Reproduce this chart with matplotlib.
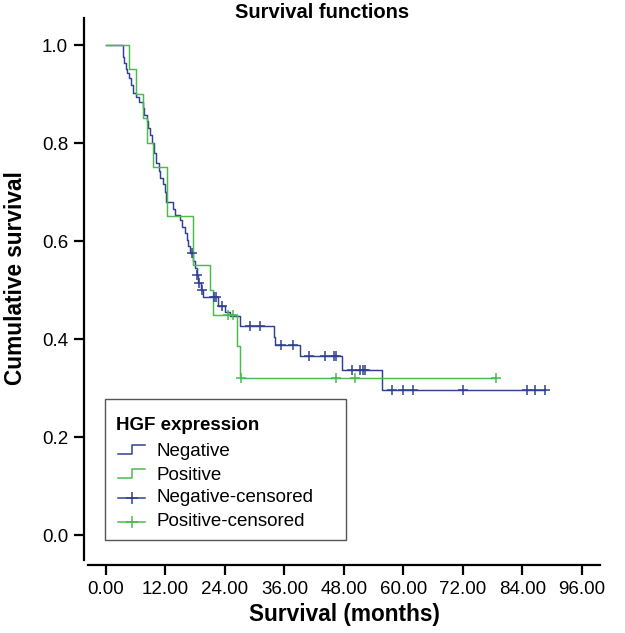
import numpy as np
import matplotlib
matplotlib.use("Agg")
import matplotlib.pyplot as plt
from matplotlib.lines import Line2D
from matplotlib.patches import Rectangle

plt.rcParams['font.family'] = ['Liberation Sans', 'DejaVu Sans']

# ---- data ----
neg_event_times = [3.4, 3.7, 4.0, 4.3, 4.6, 5.0, 5.5, 6.0, 6.6, 7.4, 7.7, 8.2, 8.5, 8.9, 9.2,
                   9.6, 10.0, 10.6, 10.9, 11.4, 11.8, 12.1, 13.5, 13.9, 14.9, 15.3, 16.0, 16.3,
                   16.6, 17.0, 17.6, 18.0, 18.3, 18.6, 19.2, 19.6, 22.6, 24.0, 25.0, 27.1, 33.8,
                   34.1, 39.2, 47.6, 55.7]
neg_event_surv = [0.975, 0.963, 0.952, 0.942, 0.932, 0.918, 0.903, 0.893, 0.883, 0.872, 0.857,
                  0.844, 0.830, 0.816, 0.800, 0.780, 0.760, 0.742, 0.728, 0.716, 0.700, 0.680,
                  0.665, 0.653, 0.642, 0.629, 0.616, 0.602, 0.590, 0.575, 0.560, 0.545, 0.530,
                  0.515, 0.500, 0.485, 0.468, 0.455, 0.447, 0.427, 0.405, 0.388, 0.366, 0.337,
                  0.296]
neg_censor_times = [17.3, 18.4, 18.8, 19.4, 21.8, 22.2, 23.4, 29.0, 31.1, 35.3, 37.7, 41.0,
                    44.2, 46.0, 46.4, 49.6, 51.3, 51.9, 52.3, 57.6, 60.0, 61.9, 72.0, 85.0,
                    86.6, 88.6]
neg_end = 88.6

pos_event_times = [4.7, 6.0, 7.5, 8.3, 9.4, 12.3, 17.6, 21.0, 21.6, 26.4, 27.0]
pos_event_surv = [0.95, 0.90, 0.85, 0.80, 0.75, 0.65, 0.55, 0.50, 0.45, 0.386, 0.321]
pos_censor_times = [24.7, 25.7, 27.3, 46.3, 50.3, 78.7]
pos_end = 78.7

x_ticks = [0, 12, 24, 36, 48, 60, 72, 84, 96]
x_ticklabels = ["0.00", "12.00", "24.00", "36.00", "48.00", "60.00", "72.00", "84.00", "96.00"]
y_ticks = [0.0, 0.2, 0.4, 0.6, 0.8, 1.0]
y_ticklabels = ["0.0", "0.2", "0.4", "0.6", "0.8", "1.0"]
legend_title = "HGF expression"
legend_labels = ["Negative", "Positive", "Negative-censored", "Positive-censored"]

BLUE = '#2f4190'
GREEN = '#4cba4c'

W, H = 625, 633
fig = plt.figure(figsize=(W / 100, H / 100), dpi=100)
AX_L, AX_R, AX_T, AX_B = 84, 600, 17.5, 565
ax = fig.add_axes([AX_L / W, 1 - AX_B / H, (AX_R - AX_L) / W, (AX_B - AX_T) / H])
ax.set_xlim((AX_L - 106) / 4.958, (AX_R - 106) / 4.958)
ax.set_ylim((535 - AX_B) / 490, (535 - AX_T) / 490)


def step_arrays(times, surv, end):
    t = np.concatenate([[0.0], times, [end]])
    s = np.concatenate([[1.0], surv, [surv[-1]]])
    return t, s


def level_at(times, surv, t):
    idx = np.searchsorted(np.asarray(times), t, side='right') - 1
    return np.where(idx >= 0, np.asarray(surv)[np.maximum(idx, 0)], 1.0)


tn, sn = step_arrays(neg_event_times, neg_event_surv, neg_end)
tp, sp = step_arrays(pos_event_times, pos_event_surv, pos_end)

ax.step(tn, sn, where='post', color=BLUE, lw=1.05, zorder=3)
ax.step(tp, sp, where='post', color=GREEN, lw=1.05, zorder=4)

nc = np.asarray(neg_censor_times)
pc = np.asarray(pos_censor_times)
ax.plot(nc, level_at(neg_event_times, neg_event_surv, nc), ls='none', marker='+',
        ms=7, mew=1.1, color=BLUE, zorder=5)
ax.plot(pc, level_at(pos_event_times, pos_event_surv, pc), ls='none', marker='+',
        ms=7, mew=1.1, color=GREEN, zorder=6)

for s in ['top', 'right']:
    ax.spines[s].set_visible(False)
ax.spines['left'].set_linewidth(1.6)
ax.spines['bottom'].set_linewidth(1.6)
ax.spines['left'].set_bounds((535 - 560) / 490, (535 - AX_T) / 490)
ax.spines['bottom'].set_bounds((88 - 106) / 4.958, (AX_R - 106) / 4.958)

ax.set_xticks(x_ticks)
ax.set_xticklabels(x_ticklabels)
ax.set_yticks(y_ticks)
ax.set_yticklabels(y_ticklabels)
ax.tick_params(axis='both', direction='out', length=7.5, width=1.6, labelsize=13.5,
               colors='black')
ax.tick_params(axis='x', pad=4)
ax.tick_params(axis='y', pad=4)

# axis titles and chart title
fig.text(16 / W, 1 - 278 / H, "Cumulative survival", fontsize=16.3, fontweight='bold',
         rotation=90, ha='center', va='center')
fig.text(344 / W, 1 - 614 / H, "Survival (months)", fontsize=16.3, fontweight='bold',
         ha='center', va='center')
fig.text(322 / W, 1 - 13 / H, "Survival functions", fontsize=14.5, fontweight='bold',
         ha='center', va='center')


# ---- legend drawn in pixel coordinates ----
def fx(x):
    return x / W


def fy(y):
    return 1 - y / H


fig.add_artist(Rectangle((fx(105), fy(540)), (346 - 105) / W, (540 - 399) / H,
                         transform=fig.transFigure, fill=False, edgecolor='#555555', lw=1))
fig.text(fx(116), fy(426), legend_title, fontsize=13.5, fontweight='bold',
         ha='left', va='center')
rows = [451, 475, 498, 522]
colors = [BLUE, GREEN, BLUE, GREEN]
for i, (lab, yy, c) in enumerate(zip(legend_labels, rows, colors)):
    x0, x1 = 118, 145
    if i < 2:
        xm = (x0 + x1) / 2
        fig.add_artist(Line2D([fx(x0), fx(xm), fx(xm), fx(x1)],
                              [fy(yy + 3), fy(yy + 3), fy(yy - 6), fy(yy - 6)],
                              transform=fig.transFigure, color=c, lw=1.1))
    else:
        fig.add_artist(Line2D([fx(x0), fx(x1)], [fy(yy), fy(yy)],
                              transform=fig.transFigure, color=c, lw=1.1))
        fig.add_artist(Line2D([fx((x0 + x1) / 2)], [fy(yy)], transform=fig.transFigure,
                              color=c, marker='+', ms=9, mew=1.1, ls='none'))
    fig.text(fx(156), fy(yy), lab, fontsize=13.5, ha='left', va='center')

fig.savefig("out.png", dpi=100)
